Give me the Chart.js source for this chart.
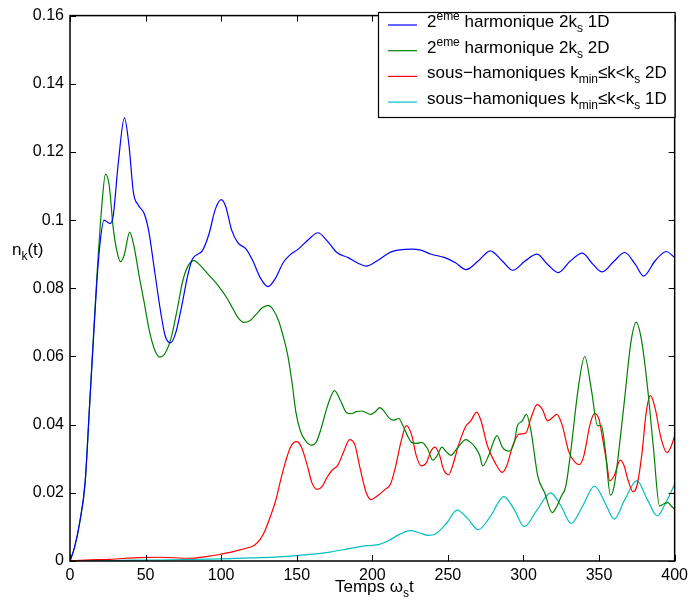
<!DOCTYPE html>
<html>
<head>
<meta charset="utf-8">
<script src="https://cdn.jsdelivr.net/npm/chart.js@4.4.1/dist/chart.umd.min.js"></script>
<style>
  html, body { margin: 0; padding: 0; background: #fff; }
  #wrap { width: 693px; height: 606px; }
</style>
</head>
<body>
<div id="wrap"><canvas id="nkChart" width="693" height="606"></canvas></div>
<script>
// time values (omega_s t) and n_k(t), one pair of arrays per curve
const tBlue1D = [0, 3, 6.5, 10, 13, 15.5, 17.5, 19.7, 22.5, 24.5, 26.5, 28.5, 32, 36, 39, 42, 45, 49, 52, 56, 60, 63, 66.5, 70, 74, 78, 81, 87.5, 92, 96, 100, 103, 107, 111, 116.5, 121, 126, 131, 136, 141, 145, 151, 158, 164, 170, 176.5, 184, 190, 196, 203, 212.5, 226, 232, 239, 248, 255, 262, 270, 278, 286, 293, 301, 309, 316, 323, 331, 339, 346, 352, 360, 367, 374, 379.5, 387, 394.5, 400];
const nBlue1D = [0, 0.004, 0.0115, 0.023, 0.046, 0.065, 0.080, 0.0925, 0.100, 0.0995, 0.099, 0.101, 0.117, 0.130, 0.122, 0.108, 0.1045, 0.102, 0.097, 0.085, 0.073, 0.066, 0.064, 0.067, 0.075, 0.084, 0.0886, 0.091, 0.096, 0.103, 0.106, 0.104, 0.097, 0.0934, 0.0915, 0.088, 0.083, 0.0805, 0.083, 0.0875, 0.0896, 0.0915, 0.0944, 0.0963, 0.094, 0.0905, 0.089, 0.0875, 0.0865, 0.088, 0.0907, 0.0915, 0.0912, 0.090, 0.089, 0.0875, 0.0855, 0.088, 0.091, 0.088, 0.0853, 0.088, 0.090, 0.087, 0.0846, 0.088, 0.0903, 0.087, 0.0848, 0.088, 0.0905, 0.087, 0.0836, 0.088, 0.0908, 0.089];

const tGreen2D = [0, 3, 6.5, 10, 13, 15.5, 18, 21, 23.5, 26, 28.5, 31, 33.5, 36, 39.5, 42, 46, 49, 52.5, 56, 59.5, 63, 67, 71, 74.5, 78, 82, 86, 90, 98.5, 104, 107.5, 111, 115, 119, 123, 127, 131, 134, 138, 141, 144, 147, 149.5, 152.5, 156, 160, 163, 166, 170, 175, 179, 183, 186, 189.5, 193, 196, 199, 202, 205, 208, 211, 214, 217.5, 220, 223, 226, 229.5, 232.5, 236.5, 240, 243, 246, 249, 252, 256, 262, 265, 268, 271, 273, 277, 282.5, 286, 290.5, 294, 296, 299, 302, 305, 309.5, 314, 319, 322, 325, 328, 331.5, 336, 340.5, 345, 349, 351.5, 354, 357.5, 360, 363, 367, 371, 374.5, 378, 382, 386, 390, 393, 395.5, 398, 400];
const nGreen2D = [0, 0.004, 0.0115, 0.023, 0.046, 0.066, 0.085, 0.104, 0.1135, 0.110, 0.098, 0.091, 0.0878, 0.090, 0.0965, 0.093, 0.083, 0.076, 0.0675, 0.062, 0.0598, 0.061, 0.0656, 0.074, 0.082, 0.0865, 0.0881, 0.0868, 0.0848, 0.0805, 0.077, 0.0742, 0.0715, 0.070, 0.0705, 0.0723, 0.0742, 0.075, 0.074, 0.0705, 0.066, 0.0605, 0.052, 0.0435, 0.038, 0.0352, 0.034, 0.035, 0.0387, 0.045, 0.050, 0.047, 0.0435, 0.0432, 0.0438, 0.044, 0.0435, 0.043, 0.0438, 0.045, 0.0438, 0.042, 0.0413, 0.0418, 0.040, 0.037, 0.0348, 0.0345, 0.0348, 0.033, 0.0296, 0.031, 0.0334, 0.032, 0.031, 0.033, 0.0356, 0.0348, 0.0334, 0.031, 0.0279, 0.031, 0.0368, 0.0334, 0.0322, 0.035, 0.0397, 0.041, 0.043, 0.038, 0.0248, 0.020, 0.0142, 0.016, 0.019, 0.022, 0.033, 0.050, 0.060, 0.050, 0.0397, 0.0397, 0.033, 0.0193, 0.022, 0.032, 0.048, 0.064, 0.070, 0.065, 0.0512, 0.033, 0.0161, 0.0168, 0.0171, 0.016, 0.0152];

const tRedSub2D = [0, 10, 26, 45, 59, 79, 90, 99, 110, 117, 122, 126, 129, 132.5, 136, 139.5, 142.5, 146, 150, 153, 157, 160, 163.5, 167, 170, 173.5, 177, 181, 185, 188.5, 192, 196, 199, 203, 208.5, 212, 215, 219, 222.5, 226, 229, 232.5, 236, 238.5, 241.5, 244.5, 247, 250.5, 253.5, 257, 262, 265, 269, 272, 276, 281, 286, 289, 293, 297, 301.5, 305, 309, 312.5, 316, 319, 322, 325.5, 330, 334, 337, 340, 344, 347, 350, 352, 355, 357, 360, 364, 366.5, 369, 372.5, 375, 378.5, 381, 384, 387, 391, 395, 398, 400];
const nRedSub2D = [0, 0.0003, 0.0005, 0.001, 0.0011, 0.0008, 0.0013, 0.0019, 0.003, 0.0038, 0.0046, 0.0065, 0.0089, 0.013, 0.0176, 0.024, 0.029, 0.0335, 0.035, 0.0335, 0.028, 0.023, 0.021, 0.022, 0.0245, 0.0267, 0.028, 0.032, 0.0356, 0.034, 0.027, 0.020, 0.018, 0.019, 0.021, 0.0225, 0.027, 0.035, 0.0397, 0.037, 0.031, 0.0279, 0.029, 0.032, 0.0334, 0.031, 0.027, 0.0253, 0.0285, 0.034, 0.0397, 0.041, 0.0437, 0.041, 0.034, 0.029, 0.026, 0.028, 0.034, 0.0372, 0.0375, 0.042, 0.0459, 0.0445, 0.0411, 0.042, 0.043, 0.040, 0.032, 0.029, 0.0283, 0.031, 0.040, 0.0433, 0.0415, 0.0368, 0.029, 0.0235, 0.025, 0.0296, 0.028, 0.024, 0.0203, 0.022, 0.032, 0.043, 0.0485, 0.045, 0.036, 0.0318, 0.034, 0.0368];

const tCyanSub1D = [0, 30, 60, 100, 120, 138, 155, 173, 183, 193, 200, 204, 210, 218, 225, 231, 237, 242, 249, 256, 263, 270, 278, 287, 294, 300.5, 309, 318, 325, 331.5, 339, 347, 354, 360, 367, 375, 382, 388.5, 394, 400];
const nCyanSub1D = [0, 0.0002, 0.0003, 0.0006, 0.0009, 0.0012, 0.0018, 0.0027, 0.0035, 0.0043, 0.0046, 0.0048, 0.0058, 0.0078, 0.0089, 0.0083, 0.0075, 0.008, 0.011, 0.0149, 0.0125, 0.0092, 0.013, 0.0189, 0.015, 0.0101, 0.015, 0.020, 0.016, 0.011, 0.016, 0.022, 0.017, 0.0123, 0.018, 0.0236, 0.018, 0.0132, 0.017, 0.0225];

const xTickLabels = ['0', '50', '100', '150', '200', '250', '300', '350', '400'];
const yTickLabels = ['0', '0.02', '0.04', '0.06', '0.08', '0.1', '0.12', '0.14', '0.16'];

const FONT = '"Liberation Sans", Arial, Helvetica, sans-serif';

function pairs(ts, ns) {
  return ts.map((t, i) => ({ x: t, y: ns[i] }));
}

// legend entries: pieces of text, with 'sup' / 'sub' parts
const legendItems = [
  { color: '#0000ff', parts: [['2'], ['eme', 'sup'], [' harmonique 2k'], ['s', 'sub'], [' 1D']] },
  { color: '#008000', parts: [['2'], ['eme', 'sup'], [' harmonique 2k'], ['s', 'sub'], [' 2D']] },
  { color: '#ff0000', parts: [['sous\u2212hamoniques k'], ['min', 'sub'], ['\u2264k<k'], ['s', 'sub'], [' 2D']] },
  { color: '#00bfbf', parts: [['sous\u2212hamoniques k'], ['min', 'sub'], ['\u2264k<k'], ['s', 'sub'], [' 1D']] }
];

function drawRich(ctx, parts, x, y, size) {
  ctx.textBaseline = 'alphabetic';
  ctx.textAlign = 'left';
  parts.forEach(p => {
    const mode = p[1];
    let fs = size, dy = 0;
    if (mode === 'sup') { fs = Math.round(size * 0.7); dy = -7; }
    if (mode === 'sub') { fs = Math.round(size * 0.7); dy = 5; }
    ctx.font = fs + 'px ' + FONT;
    ctx.fillText(p[0], x, y + dy);
    x += ctx.measureText(p[0]).width;
  });
  return x;
}

const framePlugin = {
  id: 'frame',
  afterDraw(chart) {
    const ctx = chart.ctx;
    const a = chart.chartArea;
    const xs = chart.scales.x, ys = chart.scales.y;
    ctx.save();
    ctx.strokeStyle = '#000';
    ctx.lineWidth = 1;
    // inward ticks on all four sides
    ctx.beginPath();
    xs.ticks.forEach(tk => {
      const px = Math.round(xs.getPixelForValue(tk.value)) + 0.5;
      ctx.moveTo(px, a.bottom); ctx.lineTo(px, a.bottom - 6);
      ctx.moveTo(px, a.top); ctx.lineTo(px, a.top + 6);
    });
    ys.ticks.forEach(tk => {
      const py = Math.round(ys.getPixelForValue(tk.value)) + 0.5;
      ctx.moveTo(a.left, py); ctx.lineTo(a.left + 6, py);
      ctx.moveTo(a.right, py); ctx.lineTo(a.right - 6, py);
    });
    ctx.stroke();
    ctx.lineWidth = 1.5;
    ctx.strokeRect(a.left, a.top, a.right - a.left, a.bottom - a.top);

    // axis titles
    ctx.fillStyle = '#000';
    drawRich(ctx, [['Temps'], [' \u03c9'], ['s', 'sub'], ['t']], 335, 592, 17);
    drawRich(ctx, [['n'], ['k', 'sub'], ['(t)']], 12, 255, 17);

    // legend box
    const bx = 378, by = 12, bw = a.right - 378, bh = 105;
    ctx.fillStyle = '#fff';
    ctx.fillRect(bx, by, bw, bh);
    ctx.lineWidth = 1.2;
    ctx.strokeStyle = '#000';
    ctx.strokeRect(bx + 0.5, by + 0.5, bw, bh);
    legendItems.forEach((it, i) => {
      const ly = 25 + i * 25.7;
      ctx.strokeStyle = it.color;
      ctx.lineWidth = 1.2;
      ctx.beginPath();
      ctx.moveTo(388, ly); ctx.lineTo(417, ly);
      ctx.stroke();
      ctx.fillStyle = '#000';
      drawRich(ctx, it.parts, 427, ly + 2, 17);
    });
    ctx.restore();
  }
};

function lineSet(label, ts, ns, color) {
  return {
    label: label,
    data: pairs(ts, ns),
    borderColor: color,
    backgroundColor: color,
    borderWidth: 1.2,
    pointRadius: 0,
    fill: false,
    cubicInterpolationMode: 'monotone'
  };
}

new Chart(document.getElementById('nkChart').getContext('2d'), {
  type: 'line',
  data: {
    datasets: [
      lineSet('2eme harmonique 2ks 1D', tBlue1D, nBlue1D, '#0000ff'),
      lineSet('2eme harmonique 2ks 2D', tGreen2D, nGreen2D, '#008000'),
      lineSet('sous-hamoniques kmin<=k<ks 2D', tRedSub2D, nRedSub2D, '#ff0000'),
      lineSet('sous-hamoniques kmin<=k<ks 1D', tCyanSub1D, nCyanSub1D, '#00bfbf')
    ]
  },
  options: {
    responsive: false,
    animation: false,
    layout: { padding: { top: 6, right: 16, left: 0, bottom: 0 } },
    plugins: { legend: { display: false }, tooltip: { enabled: false } },
    scales: {
      x: {
        type: 'linear',
        min: 0, max: 400,
        grid: { display: false, drawTicks: false },
        border: { display: false },
        ticks: {
          stepSize: 50, maxRotation: 0, padding: 5, color: '#000',
          font: { family: FONT, size: 16 },
          callback: (v, i) => xTickLabels[i]
        },
        afterFit(scale) { scale.height = 45; }
      },
      y: {
        type: 'linear',
        min: 0, max: 0.16,
        grid: { display: false, drawTicks: false },
        border: { display: false },
        ticks: {
          stepSize: 0.02, padding: 6, color: '#000',
          font: { family: FONT, size: 16 },
          callback: (v, i) => yTickLabels[i]
        },
        afterFit(scale) { scale.width = 70; }
      }
    }
  },
  plugins: [framePlugin]
});
</script>
</body>
</html>
